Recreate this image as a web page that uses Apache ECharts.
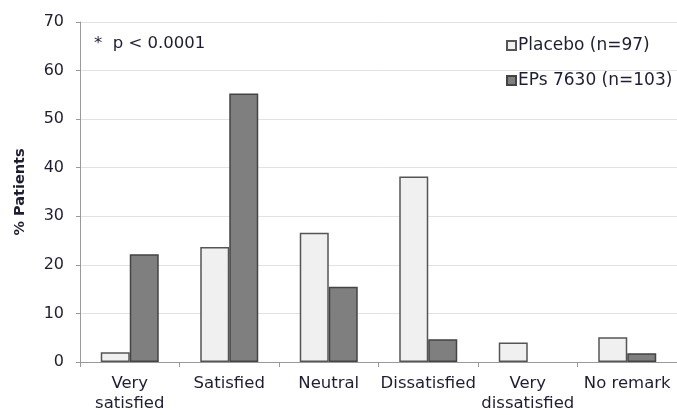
<!DOCTYPE html>
<html>
<head>
<meta charset="utf-8">
<style>
  html, body { margin: 0; padding: 0; background: #fff; overflow: hidden; }
  #chart { width: 677px; height: 415px; }
</style>
<script src="https://cdn.jsdelivr.net/npm/echarts@6/dist/echarts.min.js"></script>
</head>
<body>
<div id="chart"></div>
<script>
// 数据
const categories = ['Very\nsatisfied', 'Satisfied', 'Neutral', 'Dissatisfied', 'Very\ndissatisfied', 'No remark'];
const placebo = [2.0, 23.7, 26.6, 38.2, 4.0, 5.1];
const eps7630 = [22.2, 55.3, 15.5, 4.7, 0, 1.8];
const seriesNames = ['Placebo (n=97)', 'EPs 7630 (n=103)'];
const yTicks = { min: 0, max: 70, interval: 10 };

const textColor = '#1e1e32';
const font = 'DejaVu Sans, Verdana, sans-serif';

// 0 值不画柱子（原图没有边框线）
const hideZero = (arr) => arr.map((v) => (v === 0 ? '-' : v));

const chart = echarts.init(document.getElementById('chart'));

chart.setOption({
  animation: false,
  textStyle: { fontFamily: font },
  grid: {
    left: 80,
    top: 22,
    bottom: 53,
    width: 604,
  },
  legend: {
    orient: 'vertical',
    left: 501,
    top: 32,
    itemWidth: 9,
    itemHeight: 9,
    itemGap: 18,
    icon: 'rect',
    textStyle: { color: textColor, fontSize: 17, fontFamily: font, padding: [0, 0, 0, -3] },
    data: seriesNames,
  },
  graphic: [
    {
      type: 'text',
      left: 94,
      top: 35,
      style: { text: '*  p < 0.0001', fill: textColor, font: '16.5px ' + font },
    },
  ],
  xAxis: {
    type: 'category',
    data: categories,
    axisLine: { lineStyle: { color: '#999', width: 1 } },
    axisTick: { show: true, length: 5, lineStyle: { color: '#999' } },
    axisLabel: {
      color: textColor,
      fontSize: 16.5,
      lineHeight: 20,
      margin: 12,
      interval: 0,
    },
  },
  yAxis: {
    type: 'value',
    min: yTicks.min,
    max: yTicks.max,
    interval: yTicks.interval,
    name: '% Patients',
    nameLocation: 'middle',
    nameGap: 52,
    nameTextStyle: { color: textColor, fontSize: 14.5, fontWeight: 'bold' },
    axisLine: { show: true, lineStyle: { color: '#999', width: 1 } },
    axisTick: { show: true, length: 4, lineStyle: { color: '#999' } },
    axisLabel: { color: textColor, fontSize: 16, margin: 16 },
    splitLine: { show: true, lineStyle: { color: '#e2e2e2', width: 1 } },
  },
  series: [
    {
      name: seriesNames[0],
      type: 'bar',
      data: hideZero(placebo),
      barWidth: 29,
      barGap: '0%',
      itemStyle: { color: '#f0f0f0', borderColor: '#555', borderWidth: 1.5 },
    },
    {
      name: seriesNames[1],
      type: 'bar',
      data: hideZero(eps7630),
      barWidth: 29,
      barGap: '0%',
      itemStyle: { color: '#7f7f7f', borderColor: '#444', borderWidth: 1.5 },
    },
  ],
});
</script>
</body>
</html>
